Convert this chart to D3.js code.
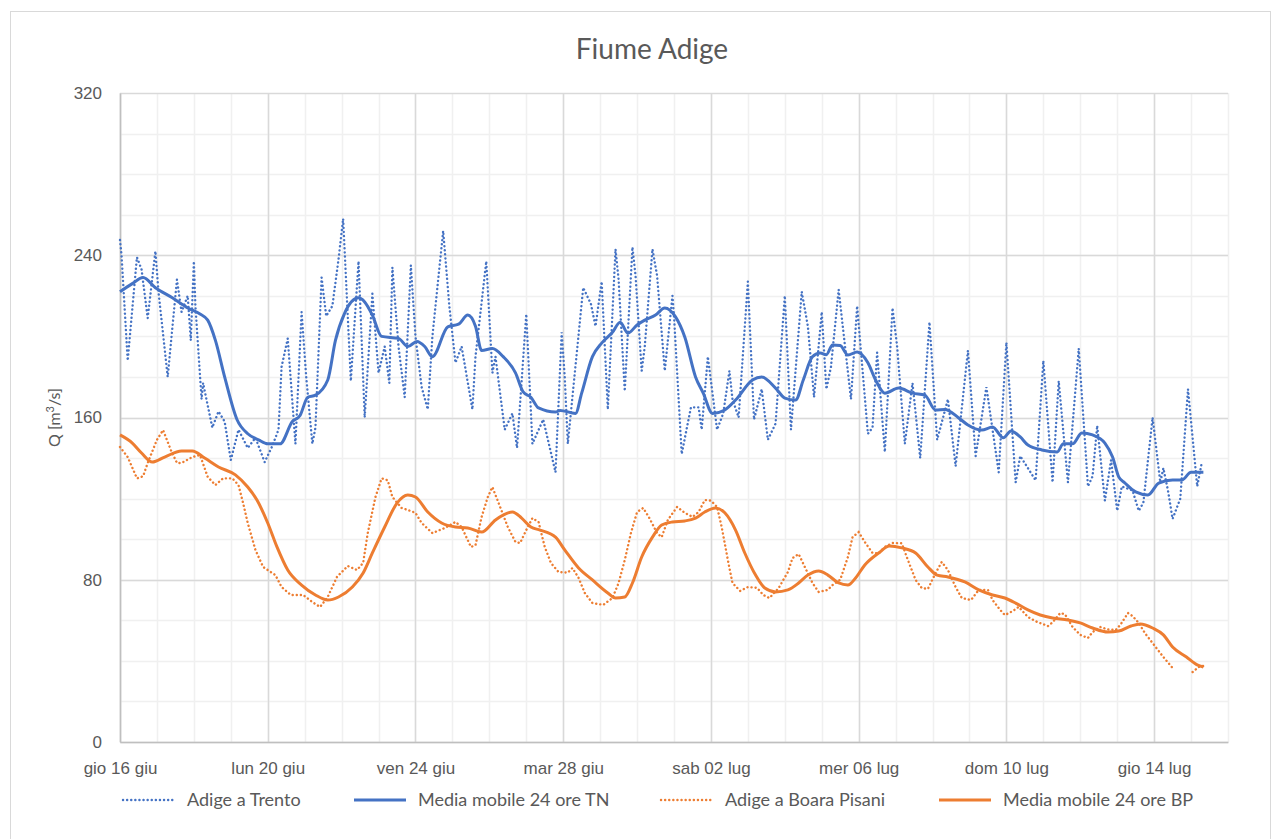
<!DOCTYPE html>
<html>
<head>
<meta charset="utf-8">
<script src="https://cdn.jsdelivr.net/npm/d3@7.9.0/dist/d3.min.js"></script>
<style>
  html, body { margin: 0; padding: 0; background: #fff; }
  svg { display: block; font-family: 'Lato', 'Liberation Sans', sans-serif; }
</style>
</head>
<body>
<svg id="chart" width="1281" height="839"></svg>
<script>
// hours since gio 16 giu 00:00, value in m3/s
const trento = [
  [0,247.5],[1,240],[5,188],[11,239],[14,233],[18,209],[23,242],[25,222],[31,180],[37,228],
  [40,212],[44,220],[46,198],[48,237],[49,215],[53,169],[54,177],[60,155],[64,163],[68,158],
  [72,139],[77,154],[83,145],[88,150],[94,138],[99,146],[103,154],[105,185],[109,199],[114,147],
  [118,212],[121,180],[125,147],[127,155],[131,229],[134,210],[138,215],[142,238],[145,258],[150,178],
  [155,237],[159,160],[164,221],[168,182],[172,195],[175,177],[177,234],[181,195],[185,170],[189,235],
  [192,200],[196,175],[200,164],[203,200],[210,252],[214,215],[218,187],[222,195],[229,164],[231,190],
  [238,237],[242,182],[244,190],[250,154],[255,162],[258,145],[264,211],[268,147],[275,159],[283,133],
  [287,202],[289,180],[291,147],[301,224],[306,216],[309,205],[313,227],[317,164],[322,243],[324,228],
  [328,173],[333,244],[335,230],[339,183],[341,195],[346,243],[349,230],[354,183],[359,220],[360,210],
  [365,142],[371,165],[376,165],[378,154],[382,190],[388,154],[392,162],[396,183],[398,169],[402,160],
  [408,227],[412,159],[417,174],[421,149],[426,157],[432,220],[436,154],[443,222],[447,205],[451,170],
  [456,212],[459,174],[462,185],[467,223],[475,169],[479,215],[486,152],[489,155],[492,192],[497,143],
  [502,214],[505,195],[510,147],[515,177],[520,140],[526,207],[531,149],[538,169],[543,136],[551,193],
  [556,141],[563,175],[571,133],[576,197],[582,128],[585,141],[590,135],[595,129],[600,188],[606,128],
  [610,178],[616,128],[623,194],[629,126],[632,131],[635,156],[640,119],[644,139],[648,114],[651,126],
  [658,124],[662,114],[665,118],[671,160],[676,128],[678,135],[681,124],[684,110],[689,120],[694,174],
  [700,126],[703,138]
];

const mediaTN = [
  [0,222],[8,226],[15,229],[23,224],[34,219],[44,214],[52,211],[57,208],[62,198],[68,180],
  [76,159],[83,152],[90,149],[96,147],[104,147],[112,158],[117,161],[122,170],[127,171],[135,178.5],
  [140,198],[146,211.5],[155,219],[159,217],[164,210.5],[170,200],[181,199],[187,195],[193,197.5],[198,195],
  [203,190],[213,204.7],[220,206],[226,210.5],[231,205],[235,193],[242,194],[249,190],[257,182],[262,172.6],
  [267,170],[272,164.7],[283,162.7],[286,163.5],[296,162],[300,172],[307,190],[313,196.7],[320,202],[325,207],
  [330,201.6],[336,205.6],[341,208],[348,210.5],[354,214],[361,209.6],[367,199.7],[374,180],[379,172],[385,162],
  [393,163.7],[400,168.6],[411,178.5],[417,180],[426,174.5],[432,169.6],[439,168.6],[444,178.5],[450,190],[455,191.8],
  [459,191],[463,195.8],[468,195.5],[473,190.8],[479,192.3],[486,187],[491,178.5],[497,172],[506,174.5],[515,172],
  [523,171],[530,163.7],[536,164],[545,159.8],[551,156.3],[560,153.8],[567,155.3],[574,150],[579,153.4],[585,150.4],
  [590,146.4],[599,144],[609,143],[613,147],[619,147],[625,152.4],[632,151.4],[640,147.4],[645,140.5],[649,130.7],
  [653,127.7],[660,123.3],[668,121.8],[675,127.7],[684,129.2],[690,129.2],[696,133],[704,133]
];

const boara = [
  [0,145.5],[5,140.5],[11,130],[15,131],[18,137.6],[24,149],[28,153.8],[33,144],[37,137.6],[40,137.6],
  [47,140.5],[52,141.5],[57,130.7],[62,126.7],[67,130],[73,130],[77,126.7],[80,117.8],[83,108],[88,94.7],
  [93,86.3],[101,82.3],[105,76.4],[111,72.5],[119,72.5],[125,69],[130,66.6],[135,71.5],[141,81.4],[148,86.8],
  [154,84.8],[158,88.3],[161,103],[166,120.8],[170,130],[174,129],[177,120.8],[183,115.4],[187,114.4],[192,113],
  [196,108],[203,103],[211,105.5],[218,108.5],[222,106],[228,96.2],[231,97],[235,111],[239,120.8],[242,125.7],
  [247,115.9],[252,106],[257,98.6],[260,98.1],[264,104.5],[268,110.4],[272,108.5],[276,96.2],[280,88.3],[285,83.8],
  [291,83.5],[294,85.8],[298,80.9],[302,73.5],[307,68.5],[314,67.6],[320,71],[324,78.4],[328,89.7],[332,103],
  [336,113.4],[340,115.4],[344,110.4],[349,103],[352,101],[356,109.5],[362,115.9],[367,113],[372,111],[376,113.4],
  [380,119.3],[384,119],[388,115.9],[391,106],[395,89.7],[398,78.4],[403,74.5],[408,76.4],[414,76],[418,72.5],
  [422,71],[428,75.9],[434,83.8],[437,90.7],[441,92.7],[445,86.3],[450,78.4],[454,74],[460,75],[463,77.4],
  [468,80],[473,91.2],[476,101],[480,103.5],[484,98.6],[489,93.2],[493,93],[497,96.2],[502,98.1],[508,98],
  [512,89.7],[517,79.9],[521,75.9],[525,75.5],[530,83.3],[534,88.8],[538,84.8],[543,76.4],[547,71],[553,70],
  [558,75],[564,75],[567,70],[572,65.1],[575,62.6],[580,64.5],[584,66.6],[590,61.6],[596,59.2],[603,57.2],
  [606,59],[611,63.6],[614,63],[619,56.7],[624,52.8],[629,51.3],[632,54.2],[637,56.7],[642,55.5],[647,55.2],
  [650,57.7],[655,63.6],[658,62.1],[662,58.7],[666,53.7],[671,48.8],[678,41.9],[684,36.5],[690,null],[697,34.5],
  [701,37],[704,37.5]
];

const mediaBP = [
  [0,151.4],[8,147.4],[14,142.5],[21,138],[29,140.5],[40,143.5],[47,143.5],[55,140],[64,135.6],[75,131.7],
  [83,125.7],[89,119.3],[96,108],[102,96.2],[109,84.8],[118,77.4],[127,72.5],[135,70],[142,71.5],[151,76.4],
  [158,83.3],[164,93.2],[172,106],[180,117.8],[187,121.8],[192,120.8],[200,113.4],[209,108],[218,106],[226,105.5],
  [235,103.5],[244,109.5],[255,113.4],[261,110.4],[267,106],[273,104.5],[283,101],[289,94.7],[298,85.8],[307,79.9],
  [317,73.5],[322,71],[328,71.5],[333,78.4],[339,91.2],[346,101],[352,107],[359,108.5],[367,109],[374,110.4],
  [380,113.4],[387,115.4],[393,113],[400,104.5],[406,93.2],[413,82.3],[419,75.9],[426,74],[434,75],[441,78.4],
  [447,82.3],[454,84.3],[460,82.3],[467,78.4],[473,77.4],[478,80.9],[484,87.3],[493,93.2],[500,96.6],[508,95.7],
  [517,93.2],[525,86.3],[531,82.3],[538,81.4],[549,78.9],[558,75],[567,72.5],[575,71],[582,68.5],[590,65.1],
  [598,62.6],[606,61.1],[616,60.2],[624,58.7],[632,56.2],[642,54.2],[649,54.7],[657,57.2],[663,58.2],[671,56.2],
  [678,52.8],[684,46.8],[693,41.9],[700,38],[704,37]
];

const yTicks = [0, 80, 160, 240, 320];
const legendLabels = ['Adige a Trento', 'Media mobile 24 ore TN', 'Adige a Boara Pisani', 'Media mobile 24 ore BP'];

const BLUE = '#4472C4';
const ORANGE = '#ED7D31';

const start = new Date(2022, 5, 16);
const end = new Date(2022, 6, 16);
const toDate = (h) => d3.timeHour.offset(start, h);

const itLocale = d3.timeFormatLocale({
  dateTime: '%A %e %B %Y, %X',
  date: '%d/%m/%Y',
  time: '%H:%M:%S',
  periods: ['AM', 'PM'],
  days: ['domenica', 'lunedì', 'martedì', 'mercoledì', 'giovedì', 'venerdì', 'sabato'],
  shortDays: ['dom', 'lun', 'mar', 'mer', 'gio', 'ven', 'sab'],
  months: ['gennaio', 'febbraio', 'marzo', 'aprile', 'maggio', 'giugno', 'luglio', 'agosto', 'settembre', 'ottobre', 'novembre', 'dicembre'],
  shortMonths: ['gen', 'feb', 'mar', 'apr', 'mag', 'giu', 'lug', 'ago', 'set', 'ott', 'nov', 'dic'],
});
const fmt = itLocale.format('%a %d %b');

const margin = { left: 120, right: 1228, top: 93, bottom: 742 };

const x = d3.scaleTime().domain([start, end]).range([margin.left, margin.right]);
const y = d3.scaleLinear().domain([0, 320]).range([margin.bottom, margin.top]);

const svg = d3.select('#chart');

// outer frame
svg.append('rect')
  .attr('x', 10.5).attr('y', 11.5)
  .attr('width', 1260).attr('height', 840)
  .attr('fill', 'none').attr('stroke', '#d9d9d9');

// minor grid: every day / every 20
const grid = svg.append('g');
const days = d3.timeDay.range(start, d3.timeDay.offset(end, 1));
grid.selectAll('.vminor')
  .data(days)
  .join('line')
  .attr('x1', (d) => Math.round(x(d)) + 0.5)
  .attr('x2', (d) => Math.round(x(d)) + 0.5)
  .attr('y1', y(320)).attr('y2', y(0))
  .attr('stroke', '#f0f0f0').attr('stroke-width', 1.5);

grid.selectAll('.hminor')
  .data(d3.range(20, 320, 20))
  .join('line')
  .attr('x1', x(start)).attr('x2', x(end))
  .attr('y1', (d) => Math.round(y(d)) + 0.5)
  .attr('y2', (d) => Math.round(y(d)) + 0.5)
  .attr('stroke', '#f0f0f0').attr('stroke-width', 1.5);

// major grid: every 4 days / every 80
const majorX = days.filter((d, i) => i % 4 === 0);
grid.selectAll('.vmajor')
  .data(majorX)
  .join('line')
  .attr('x1', (d) => Math.round(x(d)) + 0.5)
  .attr('x2', (d) => Math.round(x(d)) + 0.5)
  .attr('y1', y(320)).attr('y2', y(0))
  .attr('stroke', '#d9d9d9').attr('stroke-width', 1.5);

grid.selectAll('.hmajor')
  .data(yTicks)
  .join('line')
  .attr('x1', x(start)).attr('x2', x(end))
  .attr('y1', (d) => Math.round(y(d)) + 0.5)
  .attr('y2', (d) => Math.round(y(d)) + 0.5)
  .attr('stroke', '#d9d9d9').attr('stroke-width', 1.5);

// axes
const xAxis = d3.axisBottom(x)
  .tickValues(days.filter((d, i) => i % 4 === 0 && i < 30))
  .tickFormat(fmt)
  .tickSize(0)
  .tickPadding(20);

const gx = svg.append('g')
  .attr('transform', `translate(0,${y(0)})`)
  .call(xAxis);
gx.select('.domain').attr('stroke', '#bfbfbf').attr('stroke-width', 1.5);
gx.selectAll('text').attr('fill', '#595959').style('font-size', '17px');

const yAxis = d3.axisLeft(y).tickValues(yTicks).tickSize(0).tickPadding(18);
const gy = svg.append('g')
  .attr('transform', `translate(${x(start)},0)`)
  .call(yAxis);
gy.select('.domain').attr('stroke', '#bfbfbf').attr('stroke-width', 1.5);
gy.selectAll('text').attr('fill', '#595959').style('font-size', '17px');

// lines
const line = d3.line()
  .defined((d) => d[1] !== null)
  .x((d) => x(toDate(d[0])))
  .y((d) => y(d[1]));

const smooth = d3.line()
  .curve(d3.curveMonotoneX)
  .x((d) => x(toDate(d[0])))
  .y((d) => y(d[1]));

const plot = svg.append('g');

plot.append('path')
  .datum(trento)
  .attr('d', line)
  .attr('fill', 'none')
  .attr('stroke', BLUE)
  .attr('stroke-width', 2.4)
  .attr('stroke-linecap', 'round')
  .attr('stroke-dasharray', '0.1 4');

plot.append('path')
  .datum(mediaTN)
  .attr('d', smooth)
  .attr('fill', 'none')
  .attr('stroke', BLUE)
  .attr('stroke-width', 3)
  .attr('stroke-linejoin', 'round');

plot.append('path')
  .datum(boara)
  .attr('d', line)
  .attr('fill', 'none')
  .attr('stroke', ORANGE)
  .attr('stroke-width', 2.4)
  .attr('stroke-linecap', 'round')
  .attr('stroke-dasharray', '0.1 4');

plot.append('path')
  .datum(mediaBP)
  .attr('d', smooth)
  .attr('fill', 'none')
  .attr('stroke', ORANGE)
  .attr('stroke-width', 3)
  .attr('stroke-linejoin', 'round');

// title
svg.append('text')
  .attr('x', 652).attr('y', 59)
  .attr('text-anchor', 'middle')
  .attr('fill', '#595959')
  .style('font-size', '28px')
  .text('Fiume Adige');

// y label
const yl = svg.append('text')
  .attr('transform', `translate(60,${(y(0) + y(320)) / 2}) rotate(-90)`)
  .attr('text-anchor', 'middle')
  .attr('fill', '#595959')
  .style('font-size', '16px');
yl.append('tspan').text('Q [m');
yl.append('tspan').attr('dy', -6).style('font-size', '11px').text('3');
yl.append('tspan').attr('dy', 6).text('/s]');

// legend
const legendX = [187, 418, 725, 1003];
const legendStyle = [
  { color: BLUE, dotted: true },
  { color: BLUE, dotted: false },
  { color: ORANGE, dotted: true },
  { color: ORANGE, dotted: false },
];
const legend = svg.append('g').attr('transform', 'translate(0,800)');
legendLabels.forEach((label, i) => {
  const lx = legendX[i];
  const s = legendStyle[i];
  legend.append('line')
    .attr('x1', lx - 64).attr('x2', lx - 12)
    .attr('y1', 0).attr('y2', 0)
    .attr('stroke', s.color)
    .attr('stroke-width', s.dotted ? 2.4 : 3)
    .attr('stroke-linecap', s.dotted ? 'round' : 'butt')
    .attr('stroke-dasharray', s.dotted ? '0.1 4' : null);
  legend.append('text')
    .attr('x', lx).attr('y', 6)
    .attr('fill', '#595959')
    .style('font-size', '18px')
    .text(label);
});
</script>
</body>
</html>
